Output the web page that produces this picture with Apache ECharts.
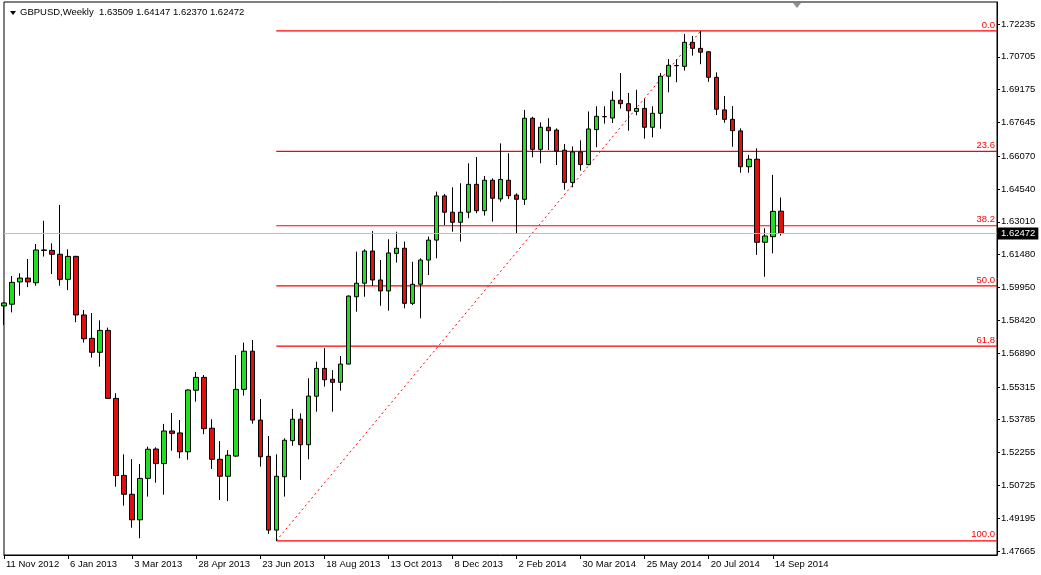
<!DOCTYPE html>
<html><head><meta charset="utf-8">
<script src="https://cdn.jsdelivr.net/npm/echarts@6/dist/echarts.min.js"></script>
<style>html,body{margin:0;padding:0;background:#fff}#c{width:1041px;height:575px}</style>
</head><body><div id="c"></div>
<script>
// ---- data ----
const opens = [1.5909,1.5917,1.6021,1.6039,1.6017,1.6170,1.6168,1.6150,1.6033,1.6140,
1.5867,1.5758,1.5693,1.5795,1.5478,1.5119,1.5031,1.4912,1.5105,1.5242,
1.5174,1.5326,1.5317,1.5229,1.5516,1.5576,1.5339,1.5194,1.5115,1.5209,
1.5520,1.5698,1.5377,1.5208,1.4864,1.5113,1.5281,1.5381,1.5262,1.5488,
1.5618,1.5567,1.5553,1.5638,1.5952,1.6015,1.6165,1.6030,1.5979,1.6154,
1.6178,1.5921,1.6010,1.6123,1.6216,1.6422,1.6346,1.6299,1.6346,1.6476,
1.6353,1.6495,1.6408,1.6495,1.6426,1.6406,1.6784,1.6639,1.6742,1.6729,
1.6635,1.6485,1.6627,1.6568,1.6731,1.6792,1.6785,1.6868,1.6852,1.6816,
1.6830,1.6742,1.6807,1.6980,1.7029,1.7026,1.7138,1.7110,1.7094,1.6975,
1.6823,1.6779,1.6725,1.6558,1.6593,1.6206,1.6232,1.63509];
const highs = [1.5927,1.6049,1.6061,1.6128,1.6198,1.6306,1.6201,1.6380,1.6173,1.6143,
1.5890,1.5876,1.5842,1.5808,1.5502,1.5217,1.5195,1.5172,1.5253,1.5250,
1.5359,1.5410,1.5377,1.5520,1.5601,1.5587,1.5381,1.5279,1.5237,1.5680,
1.5738,1.5750,1.5475,1.5303,1.5217,1.5292,1.5429,1.5408,1.5572,1.5649,
1.5712,1.5610,1.5676,1.5958,1.6162,1.6173,1.6258,1.6123,1.6220,1.6255,
1.6209,1.6115,1.6131,1.6232,1.6442,1.6431,1.6462,1.6481,1.6574,1.6603,
1.6515,1.6504,1.6667,1.6621,1.6434,1.6823,1.6791,1.6765,1.6784,1.6737,
1.6664,1.6653,1.6681,1.6816,1.6840,1.6840,1.6910,1.6995,1.6902,1.6917,
1.6874,1.6840,1.6995,1.7060,1.7059,1.7177,1.7168,1.7191,1.7097,1.6998,
1.6888,1.6841,1.6737,1.6613,1.6644,1.6271,1.6520,1.64147];
const lows = [1.5820,1.5879,1.5957,1.5997,1.6003,1.6139,1.6058,1.6003,1.5983,1.5833,
1.5738,1.5668,1.5626,1.5475,1.5066,1.4978,1.4875,1.4826,1.5020,1.5085,
1.5029,1.5234,1.5199,1.5192,1.5463,1.5311,1.5149,1.5004,1.4999,1.5205,
1.5491,1.5360,1.5160,1.4846,1.4814,1.5020,1.5257,1.5098,1.5194,1.5416,
1.5533,1.5416,1.5514,1.5637,1.5882,1.5952,1.6002,1.5910,1.5887,1.6111,
1.5898,1.5913,1.5851,1.6053,1.6131,1.6286,1.6255,1.6209,1.6318,1.6341,
1.6330,1.6302,1.6395,1.6408,1.6248,1.6380,1.6602,1.6574,1.6636,1.6566,
1.6451,1.6462,1.6540,1.6565,1.6649,1.6759,1.6762,1.6829,1.6726,1.6798,
1.6689,1.6695,1.6735,1.6905,1.6952,1.7006,1.7076,1.7036,1.6954,1.6799,
1.6763,1.6651,1.6530,1.6530,1.6147,1.6045,1.6154,1.62370];
const closes = [1.5923,1.6019,1.6039,1.6021,1.6170,1.6168,1.6150,1.6033,1.6140,1.5867,
1.5756,1.5693,1.5795,1.5478,1.5118,1.5031,1.4912,1.5105,1.5241,1.5174,
1.5326,1.5315,1.5229,1.5517,1.5576,1.5337,1.5194,1.5115,1.5213,1.5520,
1.5698,1.5377,1.5206,1.4864,1.5115,1.5283,1.5381,1.5262,1.5489,1.5618,
1.5565,1.5553,1.5638,1.5955,1.6015,1.6165,1.6030,1.5979,1.6156,1.6178,
1.5921,1.6010,1.6123,1.6216,1.6422,1.6346,1.6299,1.6346,1.6476,1.6353,
1.6495,1.6411,1.6499,1.6423,1.6406,1.6784,1.6639,1.6742,1.6726,1.6631,
1.6485,1.6627,1.6568,1.6734,1.6793,1.6791,1.6868,1.6852,1.6819,1.6830,
1.6742,1.6807,1.6980,1.7031,1.7030,1.7138,1.7110,1.7092,1.6975,1.6826,
1.6779,1.6726,1.6558,1.6593,1.6206,1.6235,1.6350,1.62472];

const yTickValues = [1.47665,1.49195,1.50725,1.52255,1.53785,1.55315,1.56890,1.58420,
1.59950,1.61480,1.63010,1.64540,1.66070,1.67645,1.69175,1.70705,1.72235];
const fibLevels = [0.0, 23.6, 38.2, 50.0, 61.8, 100.0];
const fibLowIndex = 34, fibHighIndex = 87;
const firstWeek = [2012, 10, 11]; // 11 Nov 2012 (weekly bars)
const totalSlots = 125;          // bar slots visible incl. empty right margin
const titleText = 'GBPUSD,Weekly  ' + [opens, highs, lows, closes].map(a => a[a.length - 1].toFixed(5)).join(' ');

// ---- derived ----
const MONTHS = ['Jan','Feb','Mar','Apr','May','Jun','Jul','Aug','Sep','Oct','Nov','Dec'];
const cats = [];
for (let i = 0; i < totalSlots; i++) {
  if (i < opens.length) {
    const d = new Date(Date.UTC(firstWeek[0], firstWeek[1], firstWeek[2]) + i * 7 * 864e5);
    cats.push(d.getUTCDate() + ' ' + MONTHS[d.getUTCMonth()] + ' ' + d.getUTCFullYear());
  } else cats.push('');
}
const candleData = opens.map((o, i) => [o, closes[i], lows[i], highs[i]]);
const fibHigh = highs[fibHighIndex], fibLow = lows[fibLowIndex];
const fibPrices = fibLevels.map(l => fibHigh - (fibHigh - fibLow) * l / 100);
const lastPrice = closes[closes.length - 1];
const showTick = (i, v) => v !== '' && i % 8 === 0;

const FONT = 'Liberation Sans';
const RED = '#ff0000';

const fibSeries = fibPrices.map((p, k) => ({
  type: 'line', silent: true, z: 2, symbol: 'none',
  data: [[fibLowIndex, p], [totalSlots - 1, p]],
  lineStyle: { color: RED, width: 1.2 },
  endLabel: { show: true, formatter: fibLevels[k].toFixed(1), color: RED, fontSize: 9.5,
              fontFamily: FONT, align: 'right', verticalAlign: 'bottom', offset: [-2, -1], distance: 0 }
}));

const chart = echarts.init(document.getElementById('c'), null, { renderer: 'canvas' });
chart.setOption({
  animation: false,
  backgroundColor: '#fff',
  textStyle: { fontFamily: FONT },
  grid: { left: 4, right: 44, top: 2, bottom: 20, show: true, borderColor: '#000', borderWidth: 1 },
  xAxis: {
    type: 'category', data: cats, boundaryGap: false,
    axisLine: { show: true, lineStyle: { color: '#000', width: 1 } },
    axisTick: { show: true, interval: showTick, length: 4, lineStyle: { color: '#000' } },
    axisLabel: { interval: showTick, align: 'left', margin: 4, padding: [0, 0, 0, 2],
                 fontSize: 9.5, color: '#000', fontFamily: FONT },
    splitLine: { show: false }
  },
  yAxis: {
    type: 'value', position: 'right', min: 1.47479, max: 1.73260,
    axisLine: { show: true, lineStyle: { color: '#000', width: 1 } },
    axisTick: { show: true, length: 3, customValues: yTickValues, lineStyle: { color: '#000' } },
    axisLabel: { customValues: yTickValues, formatter: v => v.toFixed(5), margin: 4,
                 fontSize: 9.5, color: '#000', fontFamily: FONT },
    splitLine: { show: false }
  },
  graphic: [
    { type: 'polygon', shape: { points: [[10, 11], [16, 11], [13, 15]] }, style: { fill: '#000' } },
    { type: 'text', left: 20, top: 7, style: { text: titleText, fill: '#000', font: '9.5px "Liberation Sans"' } },
    { type: 'polygon', shape: { points: [[793, 3], [801, 3], [797, 8]] }, style: { fill: '#909090' } }
  ],
  series: [
    { // current price line
      type: 'line', data: [], silent: true, z: 1,
      markLine: {
        symbol: ['none', 'none'], silent: true, animation: false,
        lineStyle: { color: '#c0c0c0', width: 1, type: 'solid' },
        label: { show: true, position: 'end', formatter: lastPrice.toFixed(5), color: '#fff',
                 backgroundColor: '#000', padding: [1, 3, 1, 3], fontSize: 9.5, fontFamily: FONT, distance: 1 },
        data: [[{ coord: [0, lastPrice] }, { coord: [totalSlots - 1, lastPrice] }]]
      }
    },
    ...fibSeries,
    { // fibonacci trend line
      type: 'line', silent: true, z: 2, symbol: 'none',
      data: [[fibLowIndex, fibLow], [fibHighIndex, fibHigh]],
      lineStyle: { color: RED, width: 1, type: [2, 3] }
    },
    {
      type: 'candlestick', z: 3,
      data: candleData,
      barWidth: 5,
      itemStyle: { color: '#22dd22', color0: '#e01010', borderColor: '#000', borderColor0: '#000', borderWidth: 1 }
    }
  ]
});
</script></body></html>
